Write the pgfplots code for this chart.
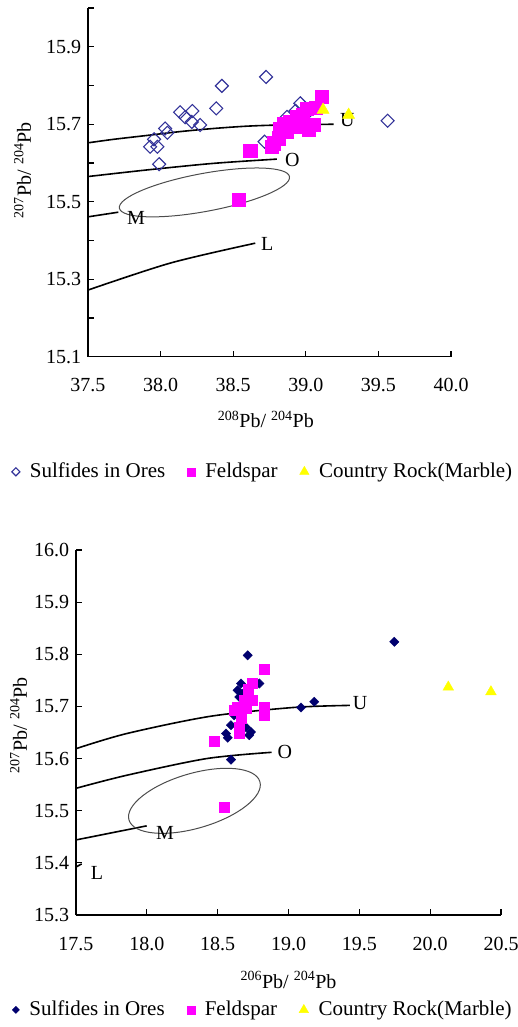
\documentclass[border=0pt]{standalone}
\usepackage{fontspec}
\setmainfont{Liberation Serif}
\usepackage{pgfplots}
\pgfplotsset{compat=1.18}
\definecolor{sulf}{RGB}{51,51,153}
\definecolor{sulfb}{RGB}{0,0,110}
\definecolor{feld}{RGB}{255,0,255}
\definecolor{rock}{RGB}{255,255,0}
\tikzset{ellst/.style={gray!60!black,line width=1pt}}
\pgfplotsset{
  myax/.style={
    scale only axis,
    axis x line*=bottom, axis y line*=left,
    axis line style={line width=1.2pt,-},
    tick align=inside,
    major tick length=6pt, minor tick length=6pt,
    every tick/.style={line width=1.2pt,black},
    /pgf/number format/assume math mode=true,
    /pgf/number format/fixed,
    /pgf/number format/fixed zerofill,
    /pgf/number format/precision=1,
    xticklabel style={yshift=-15pt},
    clip=false,
    legend columns=-1,
    legend cell align=left,
    legend style={draw=none,fill=none,anchor=center,
      font=\fontsize{21}{25}\selectfont,
      /tikz/every odd column/.append style={column sep=8pt},
      /tikz/every even column/.append style={column sep=20pt}},
  },
  curve/.style={black,line width=1.6pt,smooth,forget plot},
}
\begin{document}
\fontsize{20}{24}\selectfont
\begin{tikzpicture}
\useasboundingbox (0,0) rectangle (517pt,-1027pt);
% ---------------- top chart ----------------
\begin{axis}[myax,
  at={(88pt,-356.7pt)}, anchor=south west,
  width=363pt, height=348.7pt,
  xmin=37.5, xmax=40.0, ymin=15.1, ymax=16.0,
  xtick={37.5,38.0,38.5,39.0,39.5,40.0},
  ytick={15.1,15.3,15.5,15.7,15.9},
  minor ytick={15.2,15.4,15.6,15.8,16.0},
  xlabel={\textsuperscript{208}Pb/ \textsuperscript{204}Pb},
  ylabel={\textsuperscript{207}Pb/ \textsuperscript{204}Pb},
  xlabel style={at={(axis description cs:0.49,-0.18)},anchor=center},
  ylabel style={at={(axis description cs:-0.18,0.535)},anchor=center},
  legend style={at={(axis description cs:0.482,-0.33)}},
]
\addplot[only marks, color=sulf, mark=square, mark size=4.6pt,
  mark options={rotate=45,fill=none,line width=1.1pt},
  legend image post style={mark size=2.9pt}] coordinates {
(38.726,15.822) (38.422,15.799) (38.383,15.741) (38.134,15.731)
(38.219,15.734) (38.169,15.718) (38.215,15.706) (38.272,15.698)
(38.031,15.689) (38.047,15.678) (37.955,15.661) (37.928,15.642)
(37.978,15.642) (37.990,15.597) (38.716,15.655) (39.564,15.709)
(38.962,15.754) (38.870,15.719) (38.830,15.690) (38.930,15.735)
(39.000,15.725)
};
\addlegendentry{Sulfides in Ores}
\addplot[only marks, color=feld, mark=square*, mark size=6.6pt,
  legend image post style={mark size=4pt}] coordinates {
(39.112,15.771) (38.617,15.631) (38.537,15.506) (38.778,15.651)
(38.812,15.664) (38.824,15.689) (38.893,15.706) (38.939,15.719)
(39.008,15.741) (39.019,15.685) (39.054,15.698) (38.870,15.681)
(38.962,15.694) (38.767,15.642) (39.066,15.742) (38.850,15.700)
(38.980,15.725)
};
\addlegendentry{Feldspar}
\addplot[only marks, color=rock, mark=triangle*, mark size=7pt,
  legend image post style={mark size=5.5pt}] coordinates {
(39.119,15.737) (39.295,15.724)
};
\addlegendentry{Country Rock(Marble)}
\addplot[curve] coordinates {(37.5,15.652) (37.675,15.661) (37.905,15.671) (38.134,15.681) (38.364,15.689) (38.594,15.695) (38.824,15.698) (39.191,15.700)};
\addplot[curve] coordinates {(37.5,15.565) (37.905,15.582) (38.364,15.599) (38.801,15.610)};
\addplot[curve] coordinates {(37.5,15.461) (37.709,15.473)};
\addplot[curve] coordinates {(37.5,15.272) (38.07,15.342) (38.652,15.393)};
\draw[ellst,rotate around={10.5:(axis cs:38.302,15.524)}] (axis cs:38.302,15.524) ellipse [x radius=86.5pt, y radius=19pt];
\node at (axis cs:39.286,15.711) {U};
\node at (axis cs:38.907,15.608) {O};
\node at (axis cs:37.831,15.458) {M};
\node at (axis cs:38.734,15.391) {L};
\end{axis}
% ---------------- bottom chart ----------------
\begin{axis}[myax,
  at={(76pt,-915pt)}, anchor=south west,
  width=425pt, height=365pt,
  xmin=17.5, xmax=20.5, ymin=15.3, ymax=16.0,
  xtick={17.5,18.0,18.5,19.0,19.5,20.0,20.5},
  ytick={15.3,15.4,15.5,15.6,15.7,15.8,15.9,16.0},
  xlabel={\textsuperscript{206}Pb/ \textsuperscript{204}Pb},
  ylabel={\textsuperscript{207}Pb/ \textsuperscript{204}Pb},
  xlabel style={at={(axis description cs:0.5,-0.178)},anchor=center},
  ylabel style={at={(axis description cs:-0.135,0.52)},anchor=center},
  legend style={at={(axis description cs:0.44,-0.26)}},
]
\addplot[only marks, color=sulfb, mark=square*, mark size=3.3pt,
  mark options={rotate=45},
  legend image post style={mark size=2.5pt}] coordinates {
(18.712,15.798) (18.665,15.744) (18.794,15.744) (18.641,15.731)
(18.653,15.718) (18.617,15.683) (19.088,15.698) (19.182,15.709)
(18.594,15.664) (18.559,15.648) (18.571,15.640) (18.735,15.651)
(18.723,15.645) (18.594,15.598) (19.747,15.824) (18.680,15.725)
(18.700,15.660)
};
\addlegendentry{Sulfides in Ores}
\addplot[only marks, color=feld, mark=square*, mark size=5pt,
  legend image post style={mark size=4pt}] coordinates {
(18.825,15.771) (18.747,15.744) (18.712,15.734) (18.747,15.712)
(18.688,15.712) (18.641,15.699) (18.829,15.699) (18.700,15.696)
(18.617,15.693) (18.825,15.683) (18.665,15.677) (18.653,15.661)
(18.653,15.648) (18.476,15.634) (18.547,15.506)
};
\addlegendentry{Feldspar}
\addplot[only marks, color=rock, mark=triangle*, mark size=6.2pt,
  legend image post style={mark size=5.5pt}] coordinates {
(20.128,15.737) (20.429,15.728)
};
\addlegendentry{Country Rock(Marble)}
\addplot[curve] coordinates {(17.5,15.619) (17.858,15.648) (18.446,15.681) (19.034,15.698) (19.434,15.702)};
\addplot[curve] coordinates {(17.5,15.543) (17.858,15.568) (18.422,15.600) (18.881,15.612)};
\addplot[curve] coordinates {(17.5,15.444) (17.999,15.471)};
\addplot[curve] coordinates {(17.5,15.392) (17.54,15.398)};
\draw[ellst,rotate around={16.3:(axis cs:18.336,15.519)}] (axis cs:18.336,15.519) ellipse [x radius=68.2pt, y radius=27.4pt];
\node at (axis cs:19.505,15.706) {U};
\node at (axis cs:18.975,15.612) {O};
\node at (axis cs:18.128,15.457) {M};
\node at (axis cs:17.648,15.380) {L};
\end{axis}
\end{tikzpicture}
\end{document}
